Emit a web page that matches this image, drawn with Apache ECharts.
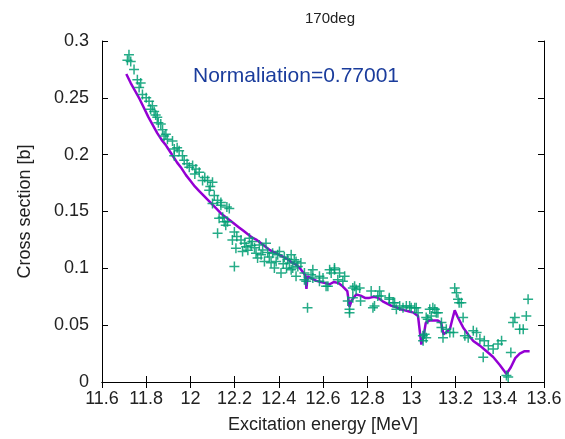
<!DOCTYPE html>
<html><head><meta charset="utf-8">
<script src="https://cdn.jsdelivr.net/npm/echarts@6/dist/echarts.min.js"></script>
<style>html,body{margin:0;padding:0;background:#fff;overflow:hidden}#c{width:565px;height:439px}</style>
</head><body><div id="c"></div>
<script>
const xTicks = [11.6, 11.8, 12, 12.2, 12.4, 12.6, 12.8, 13, 13.2, 13.4, 13.6];
const yTicks = [0, 0.05, 0.1, 0.15, 0.2, 0.25, 0.3];

const dataX = [11.715,11.722,11.73,11.745,11.76,11.768,11.775,11.783,11.80,11.813,11.82,11.828,11.836,11.843,11.85,11.855,11.866,11.874,11.881,11.889,11.896,11.919,11.927,11.927,11.94,11.949,11.964,11.972,11.985,11.995,12.01,12.02,12.025,12.04,12.055,12.065,12.078,12.085,12.09,12.10,12.10,12.108,12.123,12.138,12.138,12.146,12.153,12.16,12.165,12.168,12.176,12.13,12.123,12.19,12.199,12.199,12.206,12.21,12.229,12.236,12.245,12.252,12.26,12.267,12.275,12.28,12.29,12.297,12.304,12.312,12.32,12.327,12.335,12.342,12.35,12.357,12.365,12.372,12.38,12.388,12.395,12.403,12.41,12.42,12.425,12.435,12.44,12.448,12.456,12.456,12.463,12.47,12.478,12.478,12.486,12.50,12.516,12.516,12.524,12.53,12.546,12.554,12.554,12.584,12.584,12.60,12.614,12.622,12.63,12.637,12.652,12.652,12.667,12.675,12.69,12.698,12.712,12.72,12.72,12.735,12.743,12.75,12.766,12.735,12.77,12.818,12.826,12.833,12.848,12.856,12.863,12.90,12.90,12.917,12.924,12.932,12.947,12.962,12.977,12.992,12.999,13.015,13.022,13.03,13.052,13.053,13.06,13.067,13.067,13.074,13.083,13.09,13.097,13.106,13.113,13.12,13.136,13.136,13.143,13.158,13.174,13.19,13.196,13.204,13.211,13.216,13.226,13.234,13.242,13.257,13.28,13.295,13.31,13.325,13.33,13.348,13.37,13.392,13.408,13.43,13.438,13.45,13.46,13.468,13.49,13.506,13.52,13.528];
const dataY = [0.283,0.288,0.282,0.275,0.266,0.259,0.263,0.253,0.250,0.247,0.240,0.243,0.238,0.235,0.233,0.228,0.227,0.222,0.2165,0.218,0.2136,0.212,0.205,0.199,0.206,0.2035,0.199,0.195,0.192,0.189,0.1904,0.183,0.1875,0.1846,0.1773,0.180,0.1773,0.1686,0.172,0.1758,0.157,0.164,0.160,0.1555,0.158,0.145,0.141,0.138,0.154,0.141,0.1526,0.144,0.1308,0.125,0.132,0.1017,0.1177,0.128,0.125,0.1148,0.122,0.119,0.116,0.1265,0.120,0.1235,0.118,0.1133,0.109,0.1206,0.112,0.1162,0.106,0.122,0.114,0.110,0.105,0.1133,0.1003,0.106,0.112,0.1148,0.096,0.104,0.110,0.100,0.108,0.1046,0.1119,0.0988,0.1003,0.1075,0.106,0.093,0.1017,0.1046,0.096,0.090,0.0886,0.0654,0.0944,0.0988,0.0915,0.093,0.0886,0.0915,0.0843,0.0843,0.0988,0.096,0.0988,0.1003,0.090,0.096,0.0886,0.093,0.0712,0.064,0.061,0.0828,0.0843,0.0814,0.0828,0.0741,0.0712,0.080,0.0654,0.0669,0.0756,0.080,0.0756,0.0741,0.0727,0.0698,0.0698,0.064,0.0669,0.0654,0.0669,0.0669,0.0654,0.0654,0.0654,0.061,0.0407,0.0363,0.042,0.039,0.0567,0.0553,0.064,0.058,0.0654,0.064,0.061,0.061,0.0523,0.048,0.039,0.0465,0.0436,0.0436,0.0828,0.0785,0.0727,0.0698,0.0698,0.0567,0.0407,0.039,0.045,0.0436,0.0378,0.0218,0.0363,0.032,0.029,0.0334,0.0363,0.0058,0.0044,0.026,0.0523,0.0567,0.0465,0.0465,0.058,0.0727];

const fitX = [11.71,11.73,11.75,11.77,11.79,11.81,11.83,11.85,11.87,11.89,11.90,11.92,11.94,11.96,11.98,12.00,12.02,12.04,12.06,12.08,12.10,12.12,12.14,12.16,12.18,12.20,12.22,12.24,12.26,12.28,12.30,12.32,12.34,12.36,12.38,12.40,12.42,12.44,12.46,12.48,12.50,12.52,12.525,12.53,12.55,12.57,12.59,12.61,12.63,12.65,12.67,12.69,12.71,12.72,12.73,12.75,12.77,12.79,12.81,12.83,12.85,12.87,12.89,12.91,12.93,12.95,12.97,12.99,13.01,13.03,13.045,13.055,13.065,13.08,13.10,13.12,13.135,13.145,13.16,13.175,13.185,13.196,13.21,13.234,13.26,13.28,13.31,13.34,13.37,13.40,13.43,13.45,13.47,13.49,13.51,13.535];
const fitY = [0.271,0.263,0.256,0.249,0.241,0.233,0.226,0.219,0.213,0.208,0.205,0.199,0.193,0.188,0.182,0.177,0.172,0.168,0.164,0.160,0.156,0.152,0.148,0.145,0.142,0.139,0.136,0.133,0.130,0.127,0.125,0.122,0.119,0.116,0.114,0.112,0.110,0.108,0.105,0.103,0.099,0.094,0.082,0.093,0.091,0.089,0.088,0.087,0.086,0.088,0.087,0.084,0.080,0.066,0.072,0.077,0.076,0.074,0.074,0.075,0.074,0.071,0.069,0.067,0.066,0.064,0.063,0.062,0.061,0.058,0.033,0.040,0.052,0.054,0.054,0.054,0.052,0.042,0.044,0.047,0.055,0.063,0.057,0.048,0.041,0.036,0.032,0.027,0.022,0.015,0.007,0.013,0.021,0.025,0.027,0.027];

const font = 'Liberation Sans, Arial, sans-serif';
const chart = echarts.init(document.getElementById('c'), null, {renderer: 'canvas'});
const plus = 'path://M4.25,0h1.5v4.25h4.25v1.5h-4.25v4.25h-1.5v-4.25h-4.25v-1.5h4.25z';
const axLine = {show: true, lineStyle: {color: '#000', width: 1}};
const tick = {show: true, inside: true, length: 6, lineStyle: {color: '#000'}};
chart.setOption({
  animation: false,
  backgroundColor: '#fff',
  title: {text: '170deg', left: 325, top: 6, textAlign: 'center',
    textStyle: {fontFamily: font, fontSize: 15, fontWeight: 'normal', color: '#222'}},
  graphic: [{type: 'text', left: 193, top: 66,
    style: {text: 'Normaliation=0.77001', fontFamily: font, fontSize: 21, fill: '#1a3c9c'}}],
  grid: {left: 102, right: 21, top: 41, bottom: 54, containLabel: false},
  xAxis: [{
    type: 'value', min: 11.6, max: 13.6, interval: 0.2,
    name: 'Excitation energy [MeV]', nameLocation: 'middle', nameGap: 34,
    nameTextStyle: {fontFamily: font, fontSize: 18, color: '#222'},
    axisLine: axLine, axisTick: tick,
    axisLabel: {fontFamily: font, fontSize: 18, color: '#222', margin: 8,
      formatter: v => { const r = Math.round(v * 10) / 10; return xTicks.some(t => Math.abs(t - r) < 1e-6) ? String(r) : ''; }},
    splitLine: {show: false}
  }, {
    type: 'value', position: 'top', min: 11.6, max: 13.6, interval: 0.2,
    axisLine: axLine, axisTick: tick, axisLabel: {show: false}, splitLine: {show: false}
  }],
  yAxis: [{
    type: 'value', min: 0, max: 0.3, interval: 0.05,
    name: 'Cross section [b]', nameLocation: 'middle', nameGap: 68, nameRotate: 90,
    nameTextStyle: {fontFamily: font, fontSize: 18, color: '#222'},
    axisLine: axLine, axisTick: tick,
    axisLabel: {fontFamily: font, fontSize: 18, color: '#222', margin: 13,
      formatter: v => { const r = Math.round(v * 100) / 100; return yTicks.some(t => Math.abs(t - r) < 1e-6) ? String(r) : ''; }},
    splitLine: {show: false}
  }, {
    type: 'value', position: 'right', min: 0, max: 0.3, interval: 0.05,
    axisLine: axLine, axisTick: tick, axisLabel: {show: false}, splitLine: {show: false}
  }],
  series: [{
    type: 'line', data: fitX.map((x, i) => [x, fitY[i]]), showSymbol: false, symbol: 'none',
    lineStyle: {color: '#9400d3', width: 2.5}, z: 2
  }, {
    type: 'scatter', data: dataX.map((x, i) => [x, dataY[i]]), symbol: plus, symbolSize: 10,
    itemStyle: {color: '#009e73', opacity: 0.85}, z: 3
  }]
});
</script></body></html>
